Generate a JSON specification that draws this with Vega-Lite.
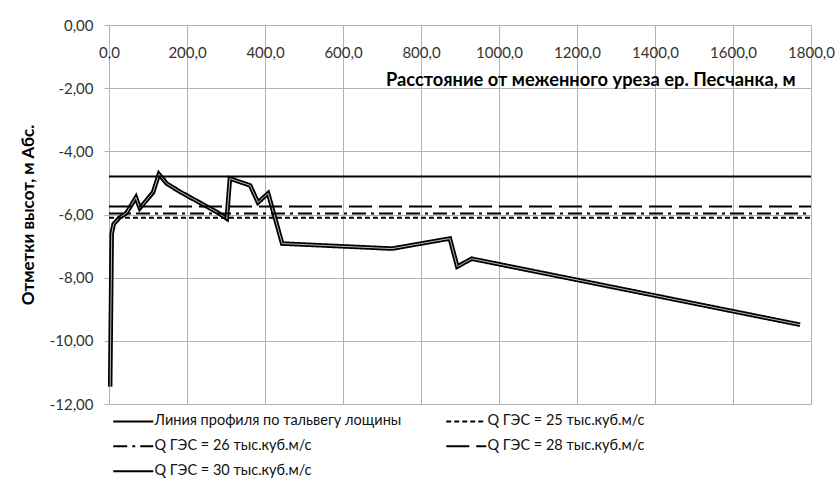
{
  "$schema": "https://vega.github.io/schema/vega-lite/v6.json",
  "width": 702,
  "height": 379,
  "autosize": {"type": "none"},
  "padding": {"left": 109, "top": 25, "right": 29, "bottom": 80},
  "background": "white",
  "config": {
    "locale": {"number": {"decimal": ",", "thousands": " ", "grouping": [3], "currency": ["", ""], "minus": "-"}},
    "view": {"stroke": null},
    "font": "Lato",
    "axis": {
      "gridColor": "#b3b3b3", "gridWidth": 1, "domainColor": "#b3b3b3", "tickColor": "#b3b3b3",
      "labelFont": "Lato", "labelFontSize": 15, "labelColor": "#333333",
      "titleFont": "Lato", "titleFontSize": 17.5, "titleFontWeight": "bold", "titleColor": "#000000"
    }
  },
  "data": {"values": [
    {"series": "Линия профиля по тальвегу лощины", "x": 3, "y": -11.45},
    {"series": "Линия профиля по тальвегу лощины", "x": 7, "y": -6.6},
    {"series": "Линия профиля по тальвегу лощины", "x": 12, "y": -6.3},
    {"series": "Линия профиля по тальвегу лощины", "x": 25, "y": -6.12},
    {"series": "Линия профиля по тальвегу лощины", "x": 45, "y": -5.95},
    {"series": "Линия профиля по тальвегу лощины", "x": 69, "y": -5.46},
    {"series": "Линия профиля по тальвегу лощины", "x": 79, "y": -5.8},
    {"series": "Линия профиля по тальвегу лощины", "x": 113, "y": -5.3},
    {"series": "Линия профиля по тальвегу лощины", "x": 128, "y": -4.72},
    {"series": "Линия профиля по тальвегу лощины", "x": 148, "y": -5.02},
    {"series": "Линия профиля по тальвегу лощины", "x": 182, "y": -5.28},
    {"series": "Линия профиля по тальвегу лощины", "x": 279, "y": -5.94},
    {"series": "Линия профиля по тальвегу лощины", "x": 302, "y": -6.13},
    {"series": "Линия профиля по тальвегу лощины", "x": 310, "y": -4.86},
    {"series": "Линия профиля по тальвегу лощины", "x": 362, "y": -5.08},
    {"series": "Линия профиля по тальвегу лощины", "x": 382, "y": -5.62},
    {"series": "Линия профиля по тальвегу лощины", "x": 408, "y": -5.33},
    {"series": "Линия профиля по тальвегу лощины", "x": 444, "y": -6.92},
    {"series": "Линия профиля по тальвегу лощины", "x": 726, "y": -7.08},
    {"series": "Линия профиля по тальвегу лощины", "x": 874, "y": -6.76},
    {"series": "Линия профиля по тальвегу лощины", "x": 893, "y": -7.65},
    {"series": "Линия профиля по тальвегу лощины", "x": 930, "y": -7.4},
    {"series": "Линия профиля по тальвегу лощины", "x": 1772, "y": -9.49},
    {"series": "Q ГЭС = 25 тыс.куб.м/с", "x": 0, "y": -6.1},
    {"series": "Q ГЭС = 25 тыс.куб.м/с", "x": 1800, "y": -6.1},
    {"series": "Q ГЭС = 26 тыс.куб.м/с", "x": 0, "y": -5.97},
    {"series": "Q ГЭС = 26 тыс.куб.м/с", "x": 1800, "y": -5.97},
    {"series": "Q ГЭС = 28 тыс.куб.м/с", "x": 0, "y": -5.75},
    {"series": "Q ГЭС = 28 тыс.куб.м/с", "x": 1800, "y": -5.75},
    {"series": "Q ГЭС = 30 тыс.куб.м/с", "x": 0, "y": -4.8},
    {"series": "Q ГЭС = 30 тыс.куб.м/с", "x": 1800, "y": -4.8}
  ]},
  "encoding": {
    "x": {
      "field": "x", "type": "quantitative",
      "scale": {"domain": [0, 1800], "nice": false, "zero": false},
      "axis": {
        "orient": "top", "values": [0, 200, 400, 600, 800, 1000, 1200, 1400, 1600, 1800],
        "format": ".1f", "grid": true, "ticks": false, "tickSize": 0, "domain": false,
        "labelPadding": -27, "labelBaseline": "middle", "labelAlign": "center",
        "labelFlush": false, "labelOverlap": false,
        "title": "Расстояние от меженного уреза ер. Песчанка, м",
        "titleFontSize": 18.3,
        "titleX": 686, "titleY": 55, "titleAlign": "right", "titleBaseline": "middle", "titleAngle": 0
      }
    },
    "y": {
      "field": "y", "type": "quantitative",
      "scale": {"domain": [-12, 0], "nice": false, "zero": false},
      "axis": {
        "orient": "left", "values": [-12, -10, -8, -6, -4, -2, 0],
        "format": ".2f", "grid": true, "tickSize": 5, "labelPadding": 11, "domain": false,
        "labelOverlap": false, "labelFlush": false,
        "title": "Отметки высот, м Абс.",
        "titleFontSize": 17,
        "titleX": -81, "titleY": 189.5, "titleAngle": -90, "titleAlign": "center", "titleBaseline": "middle"
      }
    }
  },
  "layer": [
    {
      "transform": [{"filter": "datum.series == 'Линия профиля по тальвегу лощины'"}],
      "mark": {"type": "line", "color": "#000000", "strokeWidth": 4.5, "strokeJoin": "miter"},
      "encoding": {
        "strokeDash": {
          "field": "series", "type": "nominal",
          "scale": {
            "domain": ["Линия профиля по тальвегу лощины", "Q ГЭС = 26 тыс.куб.м/с", "Q ГЭС = 30 тыс.куб.м/с", "Q ГЭС = 25 тыс.куб.м/с", "Q ГЭС = 28 тыс.куб.м/с"],
            "range": [[1, 0], [14, 5, 3, 5], [1, 0], [5, 3], [23, 7]]
          },
          "legend": {
            "orient": "none", "legendX": 3, "legendY": 389, "columns": 2,
            "columnPadding": 40, "rowPadding": 10, "padding": 0,
            "symbolType": "M-4,0H4", "symbolSize": 100, "symbolStrokeWidth": 2,
            "symbolStrokeColor": "#000000", "symbolOffset": 14,
            "labelFont": "Lato", "labelFontSize": 14.5, "labelColor": "#111111",
            "labelLimit": 400, "labelOffset": 14, "title": null
          }
        }
      }
    },
    {
      "transform": [{"filter": "datum.series == 'Линия профиля по тальвегу лощины'"}],
      "mark": {"type": "line", "color": "#bbbbbb", "strokeWidth": 1},
      "encoding": {}
    },
    {
      "transform": [{"filter": "datum.series != 'Линия профиля по тальвегу лощины'"}],
      "mark": {"type": "line", "color": "#000000", "strokeWidth": 2},
      "encoding": {
        "strokeDash": {"field": "series", "type": "nominal"}
      }
    }
  ]
}
